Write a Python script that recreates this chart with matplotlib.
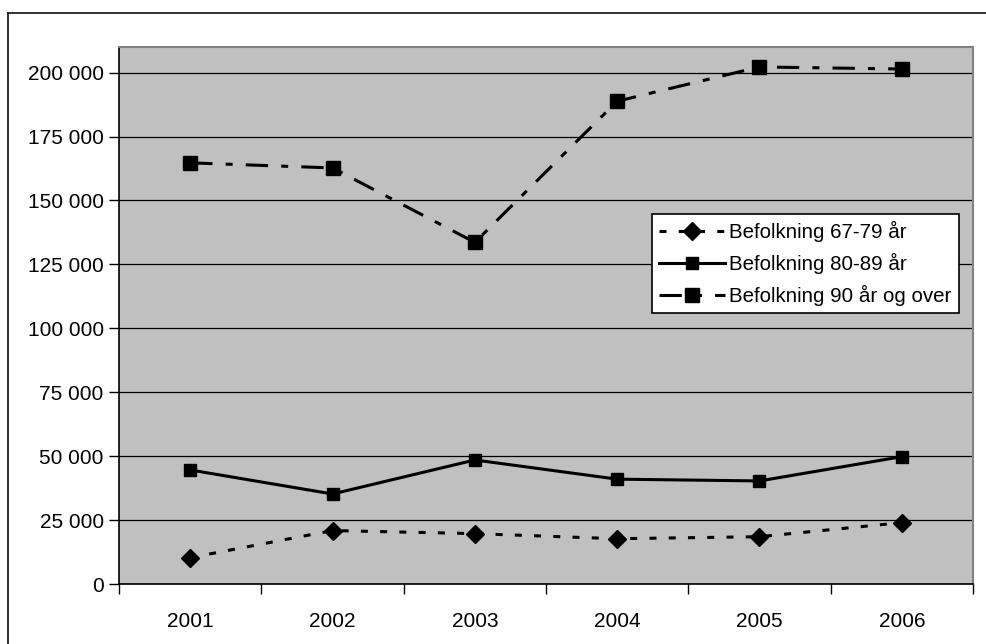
import matplotlib
matplotlib.use('Agg')
from matplotlib import pyplot as plt
from matplotlib.lines import Line2D
from matplotlib.ticker import FuncFormatter, MultipleLocator, FixedLocator
import numpy as np

plt.rcParams['font.family'] = ['Liberation Sans', 'DejaVu Sans']

## Befolkning per aldersgruppe
years = ['2001', '2002', '2003', '2004', '2005', '2006']
label_67_79 = 'Befolkning 67-79 år'
label_80_89 = 'Befolkning 80-89 år'
label_90 = 'Befolkning 90 år og over'
pop_67_79 = [10300, 20900, 19700, 17700, 18500, 24000]
pop_80_89 = [44600, 35200, 48500, 41000, 40300, 49800]
pop_90 = [164700, 162700, 133600, 188800, 202200, 201400]

W, H = 986, 644
fig = plt.figure(figsize=(W / 100, H / 100), dpi=100)
fig.patch.set_facecolor('white')

# frame around the whole chart, only top and left fall inside the canvas
fx, fy = 8 / W, 1 - 13 / H
fig.add_artist(Line2D([fx, 1.05], [fy, fy], transform=fig.transFigure,
                      color='#202020', linewidth=1.3))
fig.add_artist(Line2D([fx, fx], [-0.05, fy], transform=fig.transFigure,
                      color='#202020', linewidth=1.3))

left, right, top, bottom = 119, 973, 47, 584
ax = fig.add_axes([left / W, (H - bottom) / H, (right - left) / W, (bottom - top) / H])
ax.set_facecolor('#C0C0C0')

x = np.arange(len(years))
ax.plot(x, pop_67_79, color='black', linewidth=2.2, dashes=(2.3, 4.0),
        marker='D', markersize=9, label=label_67_79)
ax.plot(x, pop_80_89, color='black', linewidth=2.2, linestyle='-',
        marker='s', markersize=8, label=label_80_89)
ax.plot(x, pop_90, color='black', linewidth=2.2, dashes=(7.3, 4.3, 2.3, 4.3),
        marker='s', markersize=10, label=label_90)

ax.set_xlim(-0.5, len(years) - 0.5)
ax.set_ylim(0, 210000)

ax.yaxis.set_major_locator(MultipleLocator(25000))
ax.yaxis.set_major_formatter(FuncFormatter(lambda v, p: '{:,.0f}'.format(v).replace(',', ' ')))
ax.grid(axis='y', color='black', linewidth=0.9)
ax.set_axisbelow(True)

ax.set_xticks(x)
ax.set_xticklabels(years)
ax.xaxis.set_minor_locator(FixedLocator(np.arange(-0.5, len(years), 1.0)))
ax.tick_params(axis='x', which='major', length=0, pad=20, labelsize=15)
ax.tick_params(axis='x', which='minor', length=7, width=1, color='black', direction='out')
ax.tick_params(axis='y', length=7, width=1, color='black', direction='out', pad=4, labelsize=15)

for side in ['top', 'right']:
    ax.spines[side].set_color('#808080')
    ax.spines[side].set_linewidth(1.5)
for side in ['left', 'bottom']:
    ax.spines[side].set_color('black')
    ax.spines[side].set_linewidth(1.2)

leg = ax.legend(loc='upper left', bbox_to_anchor=(652 / W, 1 - 214 / H),
                bbox_transform=fig.transFigure, borderaxespad=0, fancybox=False,
                framealpha=1, edgecolor='black', fontsize=14.8, numpoints=1,
                handlelength=3.2, handletextpad=0.2, labelspacing=0.52,
                borderpad=0.35)
leg.get_frame().set_linewidth(1.2)

fig.savefig('out.png', dpi=100)
plt.close()
